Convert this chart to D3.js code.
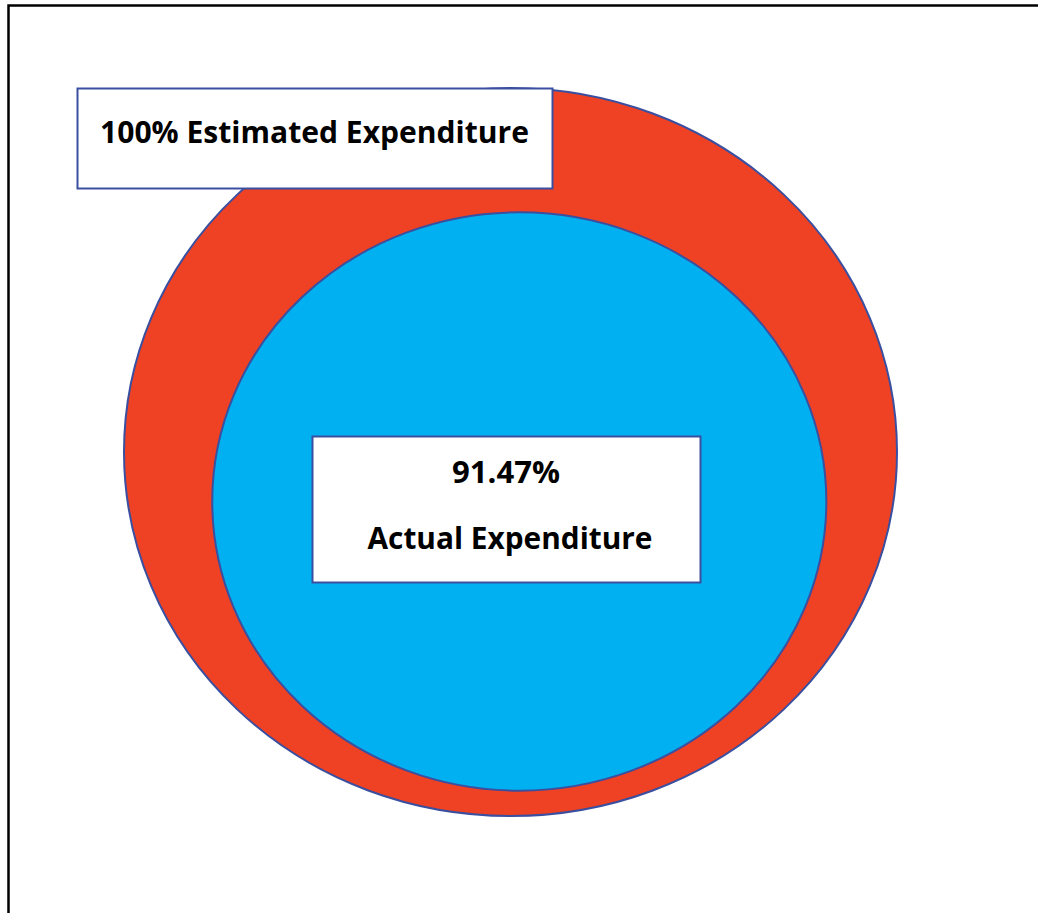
<!DOCTYPE html>
<html>
<head>
<meta charset="utf-8">
<script src="https://cdn.jsdelivr.net/npm/d3@7"></script>
<style>
  html, body { margin: 0; padding: 0; background: #fff; }
  svg { display: block; }
  text { font-family: "Open Sans", "Noto Sans", sans-serif; font-weight: 700; fill: #000; }
</style>
</head>
<body>
<svg id="chart" width="1038" height="913"></svg>
<script>
// Expenditure shares (percent of the estimate)
const categories = ["Estimated Expenditure", "Actual Expenditure"];
const values = [100, 91.47];
const labelLines = [["100% Estimated Expenditure"], ["91.47%", "Actual Expenditure"]];

const colors = ["#EF4123", "#00B0F0"];
const edge = "#3A4F9F";

const svg = d3.select("#chart");

// frame lines on the left and top
svg.append("path")
  .attr("d", "M8.5,913 L8.5,5.5 L1038,5.5")
  .attr("fill", "none").attr("stroke", "#000").attr("stroke-width", 2.5);

// radius scale: share of the estimate -> fraction of the outer ellipse
const outer = { cx: 510.5, cy: 452, rx: 386.5, ry: 364 };
const rScale = d3.scaleLinear().domain([58.5, 100]).range([0, 1]);

// centres: the actual-expenditure ellipse rests toward the bottom of the estimate
const centres = [
  { cx: outer.cx, cy: outer.cy },
  { cx: 519.3, cy: 501.5 }
];

const ellipses = values.map((v, i) => ({
  name: categories[i],
  value: v,
  cx: centres[i].cx,
  cy: centres[i].cy,
  rx: outer.rx * rScale(v),
  ry: outer.ry * rScale(v),
  color: colors[i]
}));

svg.selectAll("ellipse.share")
  .data(ellipses)
  .join("ellipse")
  .attr("class", "share")
  .attr("cx", d => d.cx)
  .attr("cy", d => d.cy)
  .attr("rx", d => d.rx)
  .attr("ry", d => d.ry)
  .attr("fill", d => d.color)
  .attr("stroke", edge)
  .attr("stroke-width", 2);

// label boxes
const boxes = [
  { x: 77.5, y: 88.5, w: 475, h: 100, lines: labelLines[0], cx: [314.5], baselines: [142.5], width: [429] },
  { x: 312.5, y: 436.5, w: 388, h: 146, lines: labelLines[1], cx: [506, 510], baselines: [482.5, 548.5], width: [108, 285] }
];

boxes.forEach(b => {
  const g = svg.append("g");
  g.append("rect")
    .attr("x", b.x).attr("y", b.y)
    .attr("width", b.w).attr("height", b.h)
    .attr("fill", "#fff")
    .attr("stroke", edge).attr("stroke-width", 2);
  b.lines.forEach((line, j) => {
    g.append("text")
      .attr("x", b.cx[j])
      .attr("y", b.baselines[j])
      .attr("text-anchor", "middle")
      .attr("textLength", b.width[j])
      .attr("lengthAdjust", "spacingAndGlyphs")
      .style("font-size", "31px")
      .text(line);
  });
});
</script>
</body>
</html>
